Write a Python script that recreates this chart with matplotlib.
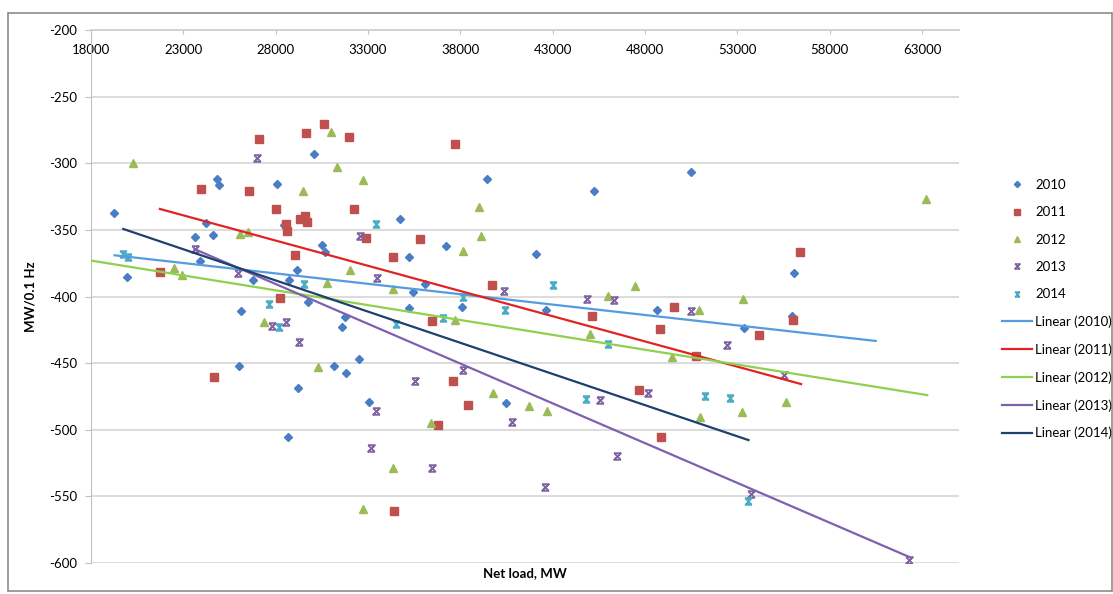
import matplotlib
matplotlib.use("Agg")
import matplotlib.pyplot as plt
import numpy as np
from matplotlib.path import Path
from matplotlib.lines import Line2D
from matplotlib.patches import Rectangle

plt.rcParams.update({"font.family": ["Lato", "DejaVu Sans"], "font.size": 9.5,
                     "axes.unicode_minus": False})

# net load (MW) and frequency response (MW/0.1 Hz) per year
x2010 = [19244, 19964, 23644, 23878, 24200, 24614, 24830, 24922, 26039, 26130,
         26777, 28097, 28450, 28652, 28724, 29177, 29195, 29733, 30076, 30495,
         30657, 31141, 31609, 31737, 31790, 32511, 33052, 34744, 35197, 35197,
         35451, 36063, 37215, 38080, 39416, 40492, 42083, 42664, 45219, 48648,
         50504, 53350, 55946, 56055]
y2010 = [-337.6, -385.1, -355.6, -373.1, -344.8, -353.9, -312.1, -316.6, -452.0, -410.7,
         -387.6, -315.8, -346.0, -505.2, -387.6, -380.1, -468.4, -403.9, -293.1, -361.4,
         -366.4, -452.0, -422.7, -415.2, -457.4, -446.9, -479.4, -342.1, -370.1, -408.4,
         -396.9, -390.9, -362.1, -407.6, -312.1, -479.7, -368.1, -410.4, -320.6, -410.1,
         -306.6, -423.4, -414.4, -382.6]

x2011 = [21729, 23949, 24651, 26582, 27085, 28022, 28238, 28562, 28600, 29070,
         29302, 29609, 29717, 29664, 30618, 31969, 32223, 32871, 34327, 34399,
         35826, 36479, 36803, 37615, 37723, 38409, 39704, 45149, 47675, 48789,
         48861, 49546, 50752, 54179, 56018, 56397]
y2011 = [-381.9, -319.3, -460.7, -321.1, -281.6, -334.1, -401.4, -345.6, -350.6, -368.6,
         -342.1, -339.4, -343.9, -277.1, -270.8, -280.1, -334.6, -355.9, -370.1, -561.2,
         -356.6, -418.4, -496.4, -463.6, -285.6, -481.2, -391.6, -414.9, -470.2, -424.4,
         -505.2, -408.1, -444.4, -428.9, -417.6, -366.8]

x2012 = [20255, 22470, 22935, 26059, 26528, 27356, 29503, 30780, 31017, 31323,
         32019, 32729, 30314, 32729, 34345, 34345, 36425, 37723, 38157, 38984,
         39092, 39789, 41703, 42677, 45000, 45978, 47459, 49454, 50935, 50972,
         53314, 53274, 55658, 63228]
y2012 = [-299.6, -378.4, -383.9, -353.3, -351.4, -419.4, -320.6, -389.6, -276.3, -302.6,
         -380.1, -312.6, -453.2, -559.2, -394.1, -528.9, -495.2, -417.9, -365.6, -333.0,
         -354.6, -472.4, -482.4, -485.7, -428.4, -399.6, -392.1, -445.6, -410.1, -490.7,
         -402.1, -486.9, -479.4, -326.6]

x2013 = [26977, 23608, 25934, 27789, 28562, 29249, 32583, 33505, 33413, 33142,
         35523, 38157, 36458, 40374, 40795, 42592, 44865, 46340, 45582, 46474,
         48179, 50486, 52448, 55532, 53731, 62290]
y2013 = [-296.3, -364.4, -382.6, -422.2, -419.4, -433.9, -354.4, -386.4, -485.7, -513.7,
         -463.2, -454.9, -528.9, -395.6, -494.4, -543.0, -401.7, -402.6, -477.4, -519.5,
         -472.7, -410.9, -436.6, -458.9, -548.2, -597.8]

x2014 = [19748, 20018, 27664, 28204, 29536, 33413, 34489, 37074, 38136, 40392,
         43003, 44827, 45978, 51259, 52611, 53586]
y2014 = [-368.3, -370.1, -405.9, -422.7, -390.9, -345.6, -420.9, -415.9, -400.2, -410.1,
         -391.4, -476.9, -435.4, -474.5, -476.0, -553.2]

years = ["2010", "2011", "2012", "2013", "2014"]
xs = [x2010, x2011, x2012, x2013, x2014]
ys = [y2010, y2011, y2012, y2013, y2014]

# linear trend lines: intercept, slope, and x span of each line
trend_a = [-339.0, -252.05, -332.9, -223.5, -256.9]
trend_b = [-0.00156, -0.003785, -0.00223, -0.00597, -0.00468]
trend_x0 = [19280, 21730, 18000, 23608, 19748]
trend_x1 = [60487, 56451, 63280, 62290, 53600]

# excel-like "x" markers with bars
hourglass = Path([(-1, 1), (1, 1), (-1, -1), (1, -1), (-1, 1), (1, -1), (-1, -1), (1, 1)],
                 [Path.MOVETO, Path.LINETO, Path.LINETO, Path.LINETO,
                  Path.MOVETO, Path.LINETO, Path.MOVETO, Path.LINETO])
star_bar = Path([(-1, 1), (1, 1), (-1, -1), (1, -1), (-1, 1), (1, -1), (-1, -1), (1, 1),
                 (0, 1), (0, -1)],
                [Path.MOVETO, Path.LINETO, Path.MOVETO, Path.LINETO,
                 Path.MOVETO, Path.LINETO, Path.MOVETO, Path.LINETO,
                 Path.MOVETO, Path.LINETO])

mk_color = ["#4A7EC4", "#C0504D", "#9BBB59", "#8064A2", "#4BACC6"]
mk_style = ["D", "s", "^", hourglass, star_bar]
mk_size = [4.2, 5.2, 5.4, 4.8, 4.8]
ln_color = ["#559BE0", "#E02424", "#8FD14F", "#7F5FB0", "#1F3F6E"]

fig = plt.figure(figsize=(11.13, 5.94), dpi=100)
ax = fig.add_axes([91 / 1113, 1 - 563 / 594, (959 - 91) / 1113, (563 - 30) / 594])

for x, y, c, m, s in zip(xs, ys, mk_color, mk_style, mk_size):
    if isinstance(m, Path):
        ax.plot(x, y, ls="none", marker=m, ms=s, mfc="none", mec=c, mew=1.3, zorder=2)
    else:
        ax.plot(x, y, ls="none", marker=m, ms=s, color=c, mec=c, zorder=2)

for a, b, x0, x1, c in zip(trend_a, trend_b, trend_x0, trend_x1, ln_color):
    tx = np.array([x0, x1])
    ax.plot(tx, a + b * tx, color=c, lw=1.6, zorder=3)

ax.set_xlim(18000, 65000)
ax.set_ylim(-600, -200)
ax.set_xticks(np.arange(18000, 63001, 5000))
ax.set_yticks(np.arange(-600, -199, 50))
ax.yaxis.grid(True, color="#D9D9D9", lw=1.3)
ax.set_axisbelow(True)
for k in ["right", "bottom"]:
    ax.spines[k].set_visible(False)
ax.spines["left"].set_color("#BFBFBF")
ax.spines["top"].set_color("#D0D0D0")
ax.spines["top"].set_linewidth(1.3)
ax.tick_params(axis="x", top=True, bottom=False, labeltop=True, labelbottom=False,
               direction="in", length=3, color="#BFBFBF", pad=-19)
ax.tick_params(axis="y", direction="out", length=4, color="#BFBFBF", pad=6)

ax.set_xlabel("Net load, MW", fontweight="bold", fontsize=9.5)
ax.xaxis.set_label_coords(0.5, -0.008)
ax.set_ylabel("MW/0.1 Hz", fontweight="bold", fontsize=9.5)
ax.yaxis.set_label_coords(-0.063, 0.5)

handles = []
for c, m, s in zip(mk_color, mk_style, mk_size):
    if isinstance(m, Path):
        handles.append(Line2D([], [], ls="none", marker=m, ms=s * 0.75, mfc="none", mec=c, mew=1.1))
    else:
        handles.append(Line2D([], [], ls="none", marker=m, ms=s * 0.75, color=c))
labels = list(years)
for yr, c in zip(years, ln_color):
    handles.append(Line2D([], [], color=c, lw=1.6))
    labels.append(f"Linear ({yr})")
fig.legend(handles, labels, loc="upper left", bbox_to_anchor=(1002 / 1113, 1 - 179 / 594),
           frameon=False, borderpad=0, borderaxespad=0, handlelength=2.3,
           handletextpad=0.2, labelspacing=1.16, fontsize=9.5)

fig.patches.append(Rectangle((8 / 1113, 1 - 591 / 594), 1104 / 1113, 578 / 594,
                             transform=fig.transFigure, fill=False, ec="#8C8C8C", lw=1.2))

fig.savefig("out.png", dpi=100)
